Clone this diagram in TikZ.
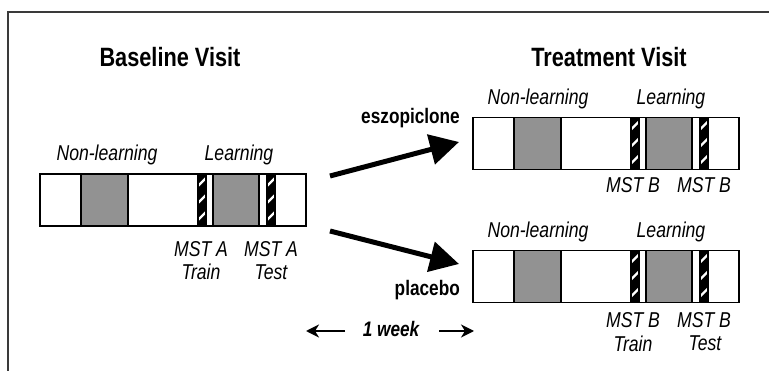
\documentclass[tikz,border=0pt]{standalone}
\usepackage{fontspec}
\setmainfont[FakeStretch=0.82]{Liberation Sans}
\usetikzlibrary{arrows.meta}
\definecolor{segGray}{HTML}{929292}
\definecolor{frameGray}{HTML}{3A3A3A}
\tikzset{
  barbox/.style={draw=none,minimum width=266pt,minimum height=52pt,inner sep=0pt,outer sep=0pt},
  grayseg/.style={fill=segGray,draw=black,line width=1.2pt},
  title/.style={font=\fontsize{26.5}{30}\selectfont\bfseries,inner sep=0pt},
  lab/.style={font=\fontsize{21.5}{24}\selectfont\itshape,inner sep=0pt},
  drug/.style={font=\fontsize{21}{24}\selectfont\bfseries,inner sep=0pt},
  bigarrow/.style={line width=5pt,-{Triangle[length=29pt,width=30pt]}},
  weekarrow/.style={line width=1.8pt,-{Stealth[length=13pt,width=13pt,inset=4pt]}},
}
\newcommand\hatchbar[1]{%
  \begin{scope}
    \clip (#1,0) rectangle (#1+8,52);
    \fill[black] (#1,0) rectangle (#1+8,52);
    \foreach \a in {8,25,42,59} \draw[white,line width=2.3pt] (#1-1,\a+5) -- (#1+9,\a-5);
  \end{scope}
  \draw[line width=1.2pt] (#1,0) rectangle (#1+8,52);
}
\newcommand\visitbar[3]{%
  \node[barbox] (#1) at (#2,#3) {};
  \begin{scope}[shift={(#1.north west)}]
    \draw[grayseg] (41,0) rectangle (88,52);
    \draw[grayseg] (173,0) rectangle (219,52);
    \hatchbar{158}
    \hatchbar{227}
  \end{scope}
  \draw[line width=1.8pt] (#1.north west) rectangle (#1.south east);
}
\begin{document}
\begin{tikzpicture}[x=1pt,y=-1pt]
\useasboundingbox (0,0) rectangle (769,371);
% frame
\coordinate (fa) at (8,371);
\coordinate (fb) at (8,12);
\coordinate (fc) at (769,12);
\draw[frameGray,line width=1.3pt] (fa) -- (fb) -- (fc);

% titles
\node[title] (tbase) at (170,57) {Baseline Visit};
\node[title] (ttreat) at (609,57) {Treatment Visit};

% bars
\visitbar{base}{173}{200}
\visitbar{treA}{606}{143.5}
\visitbar{treB}{606}{276.5}

% baseline labels
\node[lab] (bnl) at (107,155) {Non-learning};
\node[lab] (bl) at (239,155) {Learning};
\node[lab] (bm1) at (201,249) {MST A};
\node[lab] (bm2) at (271,249) {MST A};
\node[lab] (bt1) at (201,272) {Train};
\node[lab] (bt2) at (271,272) {Test};

% treatment A labels
\node[lab] (anl) at (538,99) {Non-learning};
\node[lab] (al) at (671,99) {Learning};
\node[lab] (am1) at (633,185.5) {MST B};
\node[lab] (am2) at (704,185.5) {MST B};

% treatment B labels
\node[lab] (cnl) at (538,232) {Non-learning};
\node[lab] (cl) at (671,232) {Learning};
\node[lab] (cm1) at (633,320) {MST B};
\node[lab] (cm2) at (704,320) {MST B};
\node[lab] (ct1) at (633,343.5) {Train};
\node[lab] (ct2) at (705,343.5) {Test};

% drug labels
\node[drug,anchor=east] (esz) at (460,118) {eszopiclone};
\node[drug,anchor=east] (plc) at (460,290) {placebo};

% big arrows
\coordinate (s1) at (330,176);
\coordinate (e1) at (459,142);
\coordinate (s2) at (330,231);
\coordinate (e2) at (459,264);
\draw[bigarrow] (s1) -- (e1);
\draw[bigarrow] (s2) -- (e2);

% one week
\node[font=\fontsize{21}{24}\selectfont\bfseries\itshape,inner sep=0pt] (wk) at (391,329) {1 week};
\coordinate (w1s) at (345,331);
\coordinate (w1e) at (306,331);
\coordinate (w2s) at (439,331);
\coordinate (w2e) at (474,331);
\draw[weekarrow] (w1s) -- (w1e);
\draw[weekarrow] (w2s) -- (w2e);
\end{tikzpicture}
\end{document}
